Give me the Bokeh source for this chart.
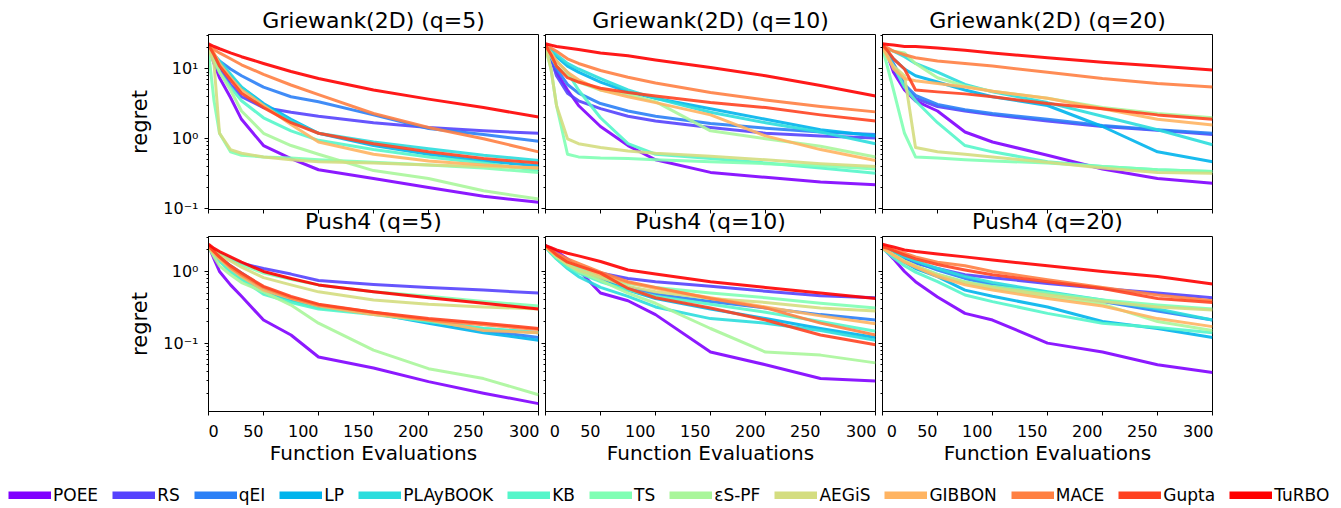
from bokeh.plotting import figure
from bokeh.layouts import row, column
from bokeh.models import Range1d, FixedTicker, Title, Legend, LegendItem
from bokeh.embed import file_html
from bokeh.resources import INLINE

# ---------------- data ----------------
methods = ["POEE", "RS", "qEI", "LP", "PLAyBOOK", "KB", "TS", "εS-PF",
           "AEGiS", "GIBBON", "MACE", "Gupta", "TuRBO"]
colors = ["#8000ff", "#5542fd", "#2b80f6", "#00b4ec", "#2bdddd", "#55f6ca",
          "#80ffb4", "#aaf69b", "#d4dd80", "#ffb462", "#ff8042", "#ff4221", "#ff0000"]

evals = [0, 5, 10, 20, 30, 50, 75, 100, 150, 200, 250, 300]

# rows follow the order of `methods`
griewank_q5 = [
    [22, 12, 7.5, 3.9, 1.9, 0.8, 0.52, 0.36, 0.27, 0.2, 0.15, 0.123],
    [20, 14, 10, 6, 4, 2.8, 2.4, 2.1, 1.7, 1.45, 1.3, 1.2],
    [20, 16, 13, 10, 8, 5.5, 4.0, 3.4, 2.2, 1.4, 1.15, 0.92],
    [20, 16, 12, 8, 5.5, 3.2, 1.9, 1.2, 0.8, 0.6, 0.48, 0.41],
    [20, 16, 13, 8.5, 5.5, 3.0, 1.8, 1.2, 0.9, 0.72, 0.58, 0.49],
    [20, 13, 9, 5.5, 3.5, 2.0, 1.3, 0.95, 0.7, 0.55, 0.45, 0.35],
    [18, 3.5, 1.2, 0.65, 0.58, 0.55, 0.53, 0.5, 0.46, 0.42, 0.38, 0.33],
    [20, 14, 9, 5, 2.5, 1.2, 0.8, 0.6, 0.35, 0.27, 0.18, 0.137],
    [20, 12, 1.2, 0.7, 0.62, 0.55, 0.5, 0.47, 0.45, 0.42, 0.4, 0.38],
    [22, 17, 12, 7.5, 5, 3.0, 1.6, 0.9, 0.6, 0.48, 0.42, 0.38],
    [22, 19, 17, 14, 11.5, 8.4, 5.9, 4.3, 2.3, 1.45, 1.0, 0.65],
    [22, 16, 11, 7, 4.5, 2.8, 1.7, 1.2, 0.85, 0.65, 0.52, 0.45],
    [23, 21, 19.5, 17, 15, 12, 9.2, 7.3, 5.0, 3.7, 2.8, 2.05],
]
griewank_q10 = [
    [22, 15, 9, 5, 3.0, 1.5, 0.8, 0.5, 0.33, 0.28, 0.24, 0.22],
    [20, 14, 8, 4.5, 3.5, 2.7, 2.1, 1.8, 1.45, 1.2, 1.1, 1.03],
    [20, 15, 10, 6, 4.5, 3.2, 2.5, 2.1, 1.65, 1.42, 1.25, 1.15],
    [21, 18, 15, 11, 9, 6.5, 4.7, 3.8, 2.7, 1.9, 1.35, 1.1],
    [21, 19, 16, 12, 10, 7.3, 5.0, 3.8, 2.4, 1.7, 1.25, 0.85],
    [21, 17, 13, 9, 5, 2.0, 0.85, 0.6, 0.52, 0.45, 0.38, 0.32],
    [20, 10, 3, 0.6, 0.55, 0.53, 0.52, 0.5, 0.47, 0.44, 0.41, 0.37],
    [21, 15, 11, 8, 6.5, 5, 4.3, 3.4, 1.3, 1.0, 0.78, 0.55],
    [21, 10, 3, 1.0, 0.85, 0.75, 0.67, 0.62, 0.56, 0.5, 0.44, 0.4],
    [21, 17, 13, 9, 7, 5, 4, 3.3, 2.2, 1.1, 0.7, 0.49],
    [22, 20, 18, 14, 12, 9.5, 7.6, 6.3, 4.6, 3.6, 2.9, 2.43],
    [22, 16, 11, 7.5, 6.5, 5.3, 4.6, 4.1, 3.3, 2.8, 2.2, 1.8],
    [23, 22, 21, 20, 19, 17, 15.5, 13.5, 10.5, 8, 5.8, 4.1],
]
griewank_q20 = [
    [22, 15, 9, 5, 3.5, 2.5, 1.25, 0.9, 0.58, 0.37, 0.27, 0.23],
    [20, 15, 10, 5.5, 3.8, 2.9, 2.5, 2.2, 1.8, 1.5, 1.33, 1.15],
    [20, 16, 12, 6, 4.2, 3.1, 2.6, 2.3, 1.9, 1.55, 1.35, 1.2],
    [20, 17, 14, 10, 8, 6.5, 5, 4.0, 3.0, 1.5, 0.65, 0.47],
    [20, 19, 18, 15, 12, 9, 6, 4.7, 3.3, 2.1, 1.35, 0.82],
    [20, 15, 11, 5.5, 3.5, 1.7, 0.8, 0.65, 0.47, 0.4, 0.36, 0.34],
    [20, 10, 5, 1.2, 0.55, 0.53, 0.5, 0.48, 0.45, 0.4, 0.36, 0.34],
    [20, 19, 18, 17, 12, 7.5, 5.7, 4.8, 3.8, 2.8, 2.3, 2.0],
    [20, 14, 11, 8, 0.75, 0.65, 0.6, 0.55, 0.46, 0.38, 0.33, 0.32],
    [21, 15, 10, 7.3, 6.8, 6.2, 5.5, 4.8, 3.8, 2.7, 1.9, 1.58],
    [22, 20, 18, 16, 14.5, 13, 12, 11, 9, 7.3, 6.2, 5.5],
    [22, 18, 14, 10, 5, 4.7, 4.4, 4.0, 3.2, 2.7, 2.2, 1.9],
    [23, 22.5, 22, 21, 21, 20, 18.5, 17, 14.5, 12.5, 11, 9.7],
]
push4_q5 = [
    [2.3, 1.5, 1.0, 0.65, 0.45, 0.21, 0.13, 0.064, 0.045, 0.029, 0.02, 0.0143],
    [2.3, 2.0, 1.8, 1.5, 1.3, 1.1, 0.92, 0.75, 0.66, 0.6, 0.55, 0.5],
    [2.3, 1.9, 1.6, 1.2, 0.95, 0.6, 0.42, 0.33, 0.26, 0.2, 0.15, 0.12],
    [2.2, 1.8, 1.5, 1.1, 0.85, 0.55, 0.4, 0.32, 0.26, 0.19, 0.14, 0.11],
    [2.2, 1.7, 1.4, 1.0, 0.8, 0.5, 0.38, 0.31, 0.26, 0.2, 0.16, 0.14],
    [2.2, 1.7, 1.4, 1.0, 0.78, 0.48, 0.37, 0.3, 0.25, 0.2, 0.16, 0.14],
    [2.3, 2.0, 1.8, 1.5, 1.25, 0.95, 0.78, 0.65, 0.52, 0.45, 0.38, 0.33],
    [2.2, 1.6, 1.2, 0.9, 0.7, 0.52, 0.34, 0.19, 0.08, 0.044, 0.032, 0.019],
    [2.2, 1.9, 1.7, 1.4, 1.15, 0.82, 0.65, 0.52, 0.4, 0.35, 0.32, 0.3],
    [2.2, 1.8, 1.5, 1.1, 0.85, 0.55, 0.42, 0.33, 0.25, 0.21, 0.15, 0.14],
    [2.3, 1.9, 1.6, 1.15, 0.9, 0.6, 0.43, 0.34, 0.27, 0.21, 0.18, 0.155],
    [2.3, 1.9, 1.6, 1.2, 0.95, 0.62, 0.45, 0.35, 0.27, 0.22, 0.19, 0.16],
    [2.4, 2.1, 1.9, 1.6, 1.35, 1.0, 0.8, 0.65, 0.52, 0.43, 0.36, 0.3],
]
push4_q10 = [
    [2.3, 2.1, 1.9, 1.5, 1.05, 0.5, 0.39, 0.25, 0.075, 0.05, 0.032, 0.0295],
    [2.3, 2.0, 1.7, 1.4, 1.2, 0.95, 0.8, 0.72, 0.62, 0.53, 0.46, 0.43],
    [2.3, 2.0, 1.7, 1.3, 1.1, 0.8, 0.6, 0.48, 0.38, 0.31, 0.25, 0.21],
    [2.2, 1.9, 1.6, 1.25, 1.0, 0.75, 0.55, 0.42, 0.3, 0.22, 0.16, 0.12],
    [2.2, 1.8, 1.5, 1.1, 0.85, 0.6, 0.45, 0.32, 0.22, 0.19, 0.15, 0.11],
    [2.2, 1.8, 1.5, 1.15, 0.95, 0.72, 0.55, 0.45, 0.35, 0.27, 0.2, 0.146],
    [2.2, 1.9, 1.6, 1.3, 1.1, 0.85, 0.68, 0.6, 0.5, 0.43, 0.36, 0.31],
    [2.2, 1.9, 1.6, 1.25, 1.0, 0.75, 0.5, 0.36, 0.16, 0.075, 0.068, 0.053],
    [2.2, 1.9, 1.6, 1.25, 1.05, 0.82, 0.62, 0.52, 0.42, 0.37, 0.31, 0.28],
    [2.2, 1.9, 1.7, 1.4, 1.2, 0.9, 0.7, 0.58, 0.43, 0.32, 0.24, 0.186],
    [2.3, 2.0, 1.8, 1.5, 1.3, 0.98, 0.72, 0.6, 0.42, 0.31, 0.19, 0.13],
    [2.3, 2.0, 1.7, 1.35, 1.2, 0.95, 0.58, 0.43, 0.31, 0.21, 0.13, 0.095],
    [2.3, 2.15, 2.0, 1.8, 1.65, 1.38, 1.05, 0.92, 0.72, 0.6, 0.5, 0.42],
]
push4_q20 = [
    [2.2, 1.8, 1.5, 1.0, 0.72, 0.44, 0.26, 0.21, 0.1, 0.075, 0.05, 0.039],
    [2.2, 2.0, 1.8, 1.5, 1.3, 1.1, 0.9, 0.82, 0.68, 0.58, 0.5, 0.43],
    [2.2, 2.0, 1.85, 1.55, 1.35, 1.05, 0.8, 0.65, 0.5, 0.38, 0.28, 0.21],
    [2.1, 1.9, 1.65, 1.35, 1.1, 0.85, 0.55, 0.45, 0.32, 0.2, 0.16, 0.12],
    [2.2, 2.0, 1.85, 1.6, 1.4, 1.1, 0.85, 0.7, 0.52, 0.4, 0.3, 0.21],
    [2.1, 1.8, 1.55, 1.2, 0.98, 0.72, 0.47, 0.38, 0.26, 0.19, 0.165, 0.14],
    [2.1, 1.9, 1.7, 1.4, 1.2, 0.92, 0.72, 0.62, 0.5, 0.4, 0.34, 0.3],
    [2.1, 1.9, 1.7, 1.4, 1.2, 0.9, 0.7, 0.58, 0.45, 0.35, 0.2, 0.15],
    [2.1, 1.9, 1.7, 1.4, 1.2, 0.9, 0.7, 0.6, 0.47, 0.38, 0.32, 0.29],
    [2.1, 1.9, 1.7, 1.35, 1.15, 0.85, 0.65, 0.55, 0.42, 0.33, 0.22, 0.17],
    [2.3, 2.2, 2.0, 1.8, 1.6, 1.35, 1.2, 1.0, 0.77, 0.6, 0.47, 0.39],
    [2.2, 2.1, 1.95, 1.7, 1.5, 1.25, 1.05, 0.9, 0.72, 0.58, 0.42, 0.37],
    [2.4, 2.3, 2.2, 2.0, 1.9, 1.75, 1.6, 1.45, 1.2, 1.0, 0.85, 0.67],
]

top_titles = ["Griewank(2D) (q=5)", "Griewank(2D) (q=10)", "Griewank(2D) (q=20)"]
bottom_titles = ["Push4 (q=5)", "Push4 (q=10)", "Push4 (q=20)"]
top_data = [griewank_q5, griewank_q10, griewank_q20]
bottom_data = [push4_q5, push4_q10, push4_q20]

x_ticks = [0, 50, 100, 150, 200, 250, 300]
FS = "\u2007"  # figure space: shifts tick labels like the reference
x_tick_labels = {0: FS + "0", 50: "50" + FS * 2, 100: "100" + FS * 3, 150: "150" + FS * 3,
                 200: "200" + FS * 3, 250: "250" + FS * 3, 300: "300"}
x_blank = {t: "" for t in x_ticks}

FONT = "DejaVu Sans"


def style_axes(p, col, top):
    p.grid.visible = False
    p.outline_line_color = "black"
    p.outline_line_width = 1
    p.outline_line_alpha = 1
    p.background_fill_color = "white"
    p.border_fill_color = "white"
    for ax in p.axis:
        ax.axis_line_color = "black"
        ax.major_tick_line_color = "black"
        ax.minor_tick_line_color = "black"
        ax.major_tick_in = 0
        ax.major_tick_out = 4
        ax.minor_tick_in = 0
        ax.minor_tick_out = 2
        ax.major_label_text_font = FONT
        ax.major_label_text_font_size = "16px"
        ax.major_label_text_color = "black"
        ax.axis_label_text_font = FONT
        ax.axis_label_text_font_style = "normal"
        ax.axis_label_text_color = "black"
    xa = p.xaxis[0]
    xa.ticker = FixedTicker(ticks=x_ticks, minor_ticks=[])
    ya = p.yaxis[0]
    if top:
        ya.ticker = FixedTicker(ticks=[0.1, 1, 10],
                                minor_ticks=[0.2, 0.3, 0.4, 0.5, 0.6, 0.7, 0.8, 0.9,
                                             2, 3, 4, 5, 6, 7, 8, 9, 20, 30])
        y_labels = {0.1: "10\u207b\u00b9", 1: "10\u2070", 10: "10\u00b9"}
    else:
        ya.ticker = FixedTicker(ticks=[0.1, 1],
                                minor_ticks=[0.02, 0.03, 0.04, 0.05, 0.06, 0.07, 0.08, 0.09,
                                             0.2, 0.3, 0.4, 0.5, 0.6, 0.7, 0.8, 0.9, 2, 3])
        y_labels = {0.1: "10\u207b\u00b9", 1: "10\u2070"}
    if col == 0:
        ya.major_label_overrides = y_labels
        ya.axis_label = "regret"
        ya.axis_label_text_font_size = "21px"
        ya.axis_label_standoff = 8
        ya.major_label_standoff = 6
    else:
        ya.major_label_overrides = {k: "" for k in y_labels}
        ya.major_label_standoff = 0
    if top:
        xa.major_label_overrides = x_blank
        xa.major_label_standoff = 0
    else:
        xa.major_label_overrides = x_tick_labels
        xa.major_label_standoff = 6
        xa.axis_label = "Function Evaluations"
        xa.axis_label_text_font_size = "20px"
        xa.axis_label_standoff = -3


def make_panel(data, col, top):
    yr = Range1d(0.097, 31.2) if top else Range1d(0.0111, 3.08)
    p = figure(x_range=Range1d(0, 300), y_range=yr, y_axis_type="log",
               frame_width=330, frame_height=175, title=None,
               output_backend="svg", toolbar_location=None,
               min_border_left=208 if col == 0 else 6, min_border_right=1,
               min_border_top=34 if top else 1, min_border_bottom=26 if top else 0)
    style_axes(p, col, top)
    for series, c in zip(data, colors):
        p.line(evals, series, line_color=c, line_width=3, line_alpha=0.9, line_join="round")
    return p


top_figs = []
bottom_figs = []
for col in range(3):
    pt = make_panel(top_data[col], col, True)
    pt.add_layout(Title(text=top_titles[col], align="center", vertical_align="bottom",
                        text_font=FONT, text_font_size="22px", text_font_style="normal",
                        text_color="black", standoff=3), "above")
    pt.add_layout(Title(text=bottom_titles[col], align="center", vertical_align="top",
                        text_font=FONT, text_font_size="22px", text_font_style="normal",
                        text_color="black", standoff=-9), "below")
    top_figs.append(pt)
    bottom_figs.append(make_panel(bottom_data[col], col, False))

# legend strip
lf = figure(width=1341, height=38, x_range=Range1d(0, 1), y_range=Range1d(0, 1),
            x_axis_type=None, y_axis_type=None, output_backend="svg",
            toolbar_location=None, min_border=0, outline_line_color=None)
lf.grid.visible = False
items = []
for m, c in zip(methods, colors):
    r = lf.line(x=[-5, -4], y=[-5, -4], line_color=c, line_width=8)
    items.append(LegendItem(label=m, renderers=[r]))
leg = Legend(items=items, orientation="horizontal", location=(8, 0),
             glyph_width=43, glyph_height=8, label_standoff=2, spacing=14,
             padding=0, margin=0, border_line_color=None, background_fill_alpha=0,
             label_text_font=FONT, label_text_font_size="17px", label_text_color="black")
lf.add_layout(leg, "center")

layout = column(row(*top_figs), row(*bottom_figs), lf)

open("out.html", "w").write(file_html(layout, INLINE))
